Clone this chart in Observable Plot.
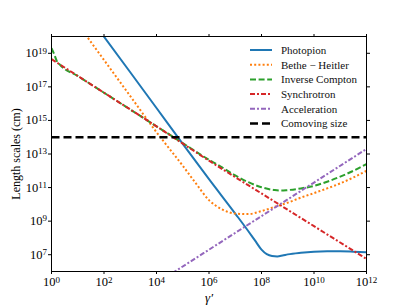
<!DOCTYPE html>
<html><head>
<meta charset="utf-8">
<script src="https://cdn.jsdelivr.net/npm/d3@7"></script>
<script src="https://cdn.jsdelivr.net/npm/@observablehq/plot@0.6"></script>
<style>
  html,body{margin:0;padding:0;background:#fff;}
  #chart svg{display:block;}
</style>
</head><body><div id="chart"></div>
<script>
// ---- data (log10 of gamma', log10 of length scale in cm) ----
const photopionLogGamma = [1.9, 3, 4, 5, 6, 7, 7.5, 7.75, 8.0, 8.2, 8.4, 8.6, 8.8, 9, 9.5, 10, 10.5, 11, 11.5, 12];
const photopionLogL     = [20.2, 17.87, 15.74, 13.6, 11.5, 9.45, 8.4, 7.85, 7.3, 7.03, 6.92, 6.9, 6.95, 7.02, 7.12, 7.18, 7.2, 7.2, 7.18, 7.15];

const betheLogGamma = [1.2, 2, 3, 4, 4.5, 5, 5.5, 6, 6.5, 7, 7.5, 8, 8.5, 9, 9.5, 10, 10.5, 11, 11.5, 12];
const betheLogL     = [20.32, 18.6, 16.45, 14.3, 13.3, 12.3, 11.25, 10.25, 9.7, 9.45, 9.42, 9.6, 9.85, 10.1, 10.4, 10.67, 10.95, 11.25, 11.6, 12.0];

const icLogGamma = [0, 0.1, 0.2, 0.3, 1, 2, 3, 4, 5, 6, 6.5, 7, 7.5, 8, 8.5, 8.75, 9, 9.5, 10, 10.5, 11, 11.5, 12];
const icLogL     = [19.3, 18.95, 18.55, 18.35, 17.65, 16.65, 15.65, 14.65, 13.65, 12.65, 12.2, 11.72, 11.32, 11.02, 10.85, 10.82, 10.85, 10.95, 11.1, 11.35, 11.65, 12.0, 12.4];

const synchLogGamma = [0, 2, 4, 6, 8, 10, 12];
const synchLogL     = [18.65, 16.65, 14.65, 12.6, 10.65, 8.7, 6.75];

const accelLogGamma = [4.6, 6, 8, 10, 12];
const accelLogL     = [5.9, 7.3, 9.3, 11.3, 13.3];

const comovingLogGamma = [0, 12];
const comovingLogL     = [14, 14];

const seriesNames  = ["Photopion", "Bethe − Heitler", "Inverse Compton", "Synchrotron", "Acceleration", "Comoving size"];
const seriesColors = ["#1f77b4", "#ff7f0e", "#2ca02c", "#d62728", "#9467bd", "#000000"];
const seriesDash   = [null, "2 2.2", "6 2.6", "5 2 2 2", "5 2 2 2", "8 4"];
const seriesWidth  = [2, 2, 2, 2, 2, 2.4];

const xTickExps = [0, 2, 4, 6, 8, 10, 12];
const yTickExps = [7, 9, 11, 13, 15, 17, 19];

// ---- build table ----
const seriesData = [
  [photopionLogGamma, photopionLogL],
  [betheLogGamma, betheLogL],
  [icLogGamma, icLogL],
  [synchLogGamma, synchLogL],
  [accelLogGamma, accelLogL],
  [comovingLogGamma, comovingLogL]
];
const rows = [];
seriesData.forEach(([gs, ls], i) => {
  gs.forEach((g, j) => rows.push({series: seriesNames[i], gamma: 10 ** g, L: 10 ** ls[j]}));
});

const xTicks = xTickExps.map(e => 10 ** e);
const yTicks = yTickExps.map(e => 10 ** e);
const supFmt = d => "10^" + Math.round(Math.log10(d));

const lineMarks = seriesNames.map((name, i) => Plot.line(rows.filter(r => r.series === name), {
  x: "gamma", y: "L",
  stroke: seriesColors[i],
  strokeWidth: seriesWidth[i],
  strokeDasharray: seriesDash[i],
  strokeLinecap: "butt",
  curve: "monotone-x",
  clip: true
}));

const chart = Plot.plot({
  width: 407, height: 305,
  marginLeft: 51, marginRight: 41, marginTop: 36, marginBottom: 34,
  style: {fontFamily: "'Liberation Serif', serif", fontSize: "12.5px", background: "white", color: "black", overflow: "visible"},
  x: {type: "log", domain: [1, 1e12]},
  y: {type: "log", domain: [1e6, 1e20]},
  marks: [
    ...lineMarks,
    Plot.frame({stroke: "black", strokeWidth: 1}),
    Plot.axisX({anchor: "bottom", ticks: xTicks, tickFormat: supFmt, tickSize: 3, tickPadding: 3,
      label: "γ′", labelAnchor: "center", labelOffset: 30, labelArrow: "none"}),
    Plot.axisX({anchor: "top", ticks: xTicks, tickFormat: () => "", tickSize: 3, label: null}),
    Plot.axisY({anchor: "left", ticks: yTicks, tickFormat: supFmt, tickSize: 3, tickPadding: 1.5,
      label: "Length scales (cm)", labelAnchor: "center", labelOffset: 40, labelArrow: "none"}),
    Plot.axisY({anchor: "right", ticks: yTicks, tickFormat: () => "", tickSize: 3, label: null})
  ]
});

document.getElementById("chart").appendChild(chart);

// superscripts for tick labels
const svg = d3.select(chart);
svg.selectAll('g[aria-label="x-axis tick label"] text, g[aria-label="y-axis tick label"] text').each(function() {
  const t = d3.select(this);
  const s = t.text();
  if (!s.includes("^")) return;
  const [base, exp] = s.split("^");
  t.text(null);
  t.append("tspan").text(base);
  t.append("tspan").attr("dy", "-0.42em").attr("font-size", "0.72em").text(exp);
});
svg.selectAll('g[aria-label="x-axis label"] text').attr("font-style", "italic").attr("font-size", "13px");
svg.selectAll('g[aria-label="y-axis label"] text').attr("font-size", "12px");

// legend (inside the plot area, upper right)
const x0 = 250, y0 = 50, dy = 14.7;
const leg = svg.append("g").attr("class", "legend").attr("text-anchor", "start");
seriesNames.forEach((name, i) => {
  const yy = y0 + i * dy;
  leg.append("line")
    .attr("x1", x0).attr("x2", x0 + 22).attr("y1", yy).attr("y2", yy)
    .attr("stroke", seriesColors[i]).attr("stroke-width", seriesWidth[i])
    .attr("stroke-dasharray", seriesDash[i]);
  leg.append("text")
    .attr("x", x0 + 31).attr("y", yy).attr("dy", "0.35em")
    .attr("text-anchor", "start")
    .attr("font-family", "'Liberation Serif', serif").attr("font-size", "11px")
    .attr("fill", "#111").text(name);
});
</script>
</body></html>
